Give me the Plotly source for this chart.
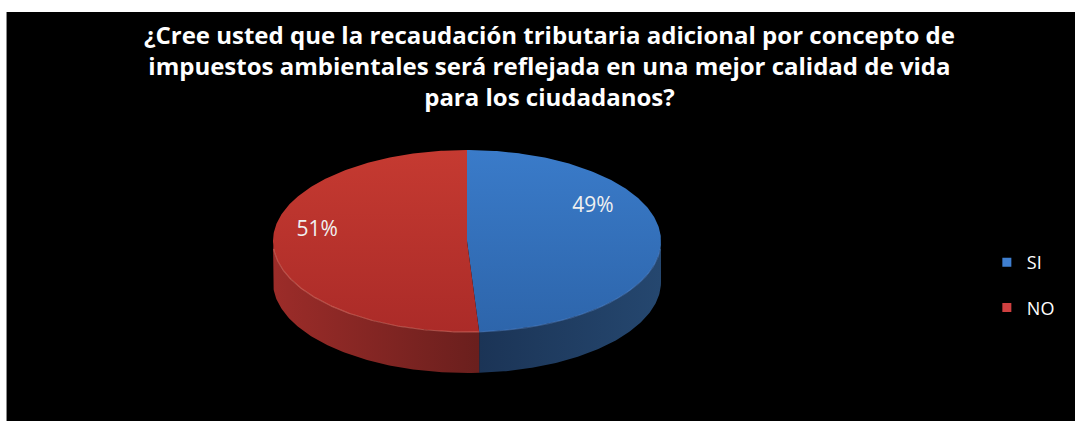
import numpy as np
import plotly.graph_objects as go

# Survey answers
categories = ["SI", "NO"]
values = [49, 51]
top_colors = [("#3a7bc9", "#2d65ab"), ("#c53a31", "#ab2b28")]
side_colors = [("#1b3456", "#25476f"), ("#9c2c29", "#6a1f1d")]
legend_colors = ["#3f7fd0", "#cf4040"]

title_lines = [
    "¿Cree usted que la recaudación tributaria adicional por concepto de",
    "impuestos ambientales será reflejada en una mejor calidad de vida",
    "para los ciudadanos?",
]

FONT = "'Open Sans', Lato, sans-serif"
W, H = 1075, 421
# Geometry of the tilted pie (pixel space, y grows downward)
cx, cy, rx, ry, depth = 467, 241, 194, 91, 41


def ell(theta_deg, dy=0.0):
    t = np.radians(theta_deg)
    return cx + rx * np.sin(t), cy - ry * np.cos(t) + dy


fig = go.Figure()

total = float(sum(values))
bounds = np.concatenate([[0], np.cumsum(values) / total * 360.0])

# Front walls (visible between 90 and 270 degrees, clockwise from the top)
for i, cat in enumerate(categories):
    a, b = max(bounds[i], 90.0), min(bounds[i + 1], 270.0)
    if a >= b:
        continue
    th = np.linspace(a, b, 120)
    xt, yt = ell(th)
    xb, yb = ell(th[::-1], depth)
    xs = np.concatenate([xt, xb, xt[:1]])
    ys = np.concatenate([yt, yb, yt[:1]])
    c0, c1 = side_colors[i]
    fig.add_trace(go.Scatter(
        x=xs, y=ys, mode="lines", line=dict(width=0), fill="toself",
        fillgradient=dict(type="horizontal",
                          colorscale=[[0, c0], [1, c1]]),
        hoverinfo="skip", showlegend=False))

# Top faces
for i, cat in enumerate(categories):
    th = np.linspace(bounds[i], bounds[i + 1], 240)
    xa, ya = ell(th)
    xs = np.concatenate([[cx], xa, [cx]])
    ys = np.concatenate([[cy], ya, [cy]])
    c0, c1 = top_colors[i]
    fig.add_trace(go.Scatter(
        x=xs, y=ys, mode="lines", line=dict(width=0), fill="toself",
        fillgradient=dict(type="vertical", start=cy - ry, stop=cy + ry,
                          colorscale=[[0, c0], [1, c1]]),
        hoverinfo="skip", showlegend=False))

# Light rim along the front edge of the top face
for i, cat in enumerate(categories):
    a, b = max(bounds[i], 95.0), min(bounds[i + 1], 265.0)
    if a >= b:
        continue
    th = np.linspace(a, b, 120)
    xa, ya = ell(th)
    rim = "rgba(225,120,110,0.55)" if cat == "NO" else "rgba(90,140,210,0.45)"
    fig.add_trace(go.Scatter(x=xa, y=ya, mode="lines",
                             line=dict(color=rim, width=1.2),
                             hoverinfo="skip", showlegend=False))

# Percentage labels
label_angle = [bounds[0] + 60.0, bounds[1] + 102.0]
label_frac = [0.75, 0.78]
lx, ly = [], []
for i in range(len(values)):
    x, y = ell(label_angle[i])
    lx.append(cx + (x - cx) * label_frac[i])
    ly.append(cy + (y - cy) * label_frac[i])
fig.add_trace(go.Scatter(
    x=lx, y=ly, mode="text",
    text=[f"{v:.0f}%" for v in values],
    textfont=dict(family=FONT, size=21, color="#f0f0f0"),
    hoverinfo="skip", showlegend=False))

# Legend entries
for i, cat in enumerate(categories):
    fig.add_trace(go.Scatter(
        x=[None], y=[None], mode="markers", name=cat,
        legendgroup=cat,
        marker=dict(symbol="square", size=9, color=legend_colors[i])))

# White page edge above and left of the dark chart area
fig.add_shape(type="rect", x0=0, x1=W, y0=0, y1=12, fillcolor="white",
              line=dict(width=0), layer="above")
fig.add_shape(type="rect", x0=0, x1=7, y0=0, y1=H, fillcolor="white",
              line=dict(width=0), layer="above")
fig.add_shape(type="line", x0=6.5, x1=6.5, y0=12, y1=H,
              line=dict(color="#8a8a8a", width=1), layer="above")

# Chart title
fig.add_annotation(
    text="<b>" + "<br>".join(title_lines) + "</b>",
    xref="paper", yref="paper", x=0.511, y=1 - 16 / H,
    xanchor="center", yanchor="top", showarrow=False, align="center",
    font=dict(family=FONT, size=24, color="white"))

fig.update_layout(
    width=W, height=H,
    margin=dict(l=0, r=0, t=0, b=0),
    paper_bgcolor="black", plot_bgcolor="black",
    xaxis=dict(range=[0, W], visible=False, fixedrange=True),
    yaxis=dict(range=[H, 0], visible=False, fixedrange=True),
    legend=dict(x=0.918, y=1 - 244 / H, xanchor="left", yanchor="top",
                bgcolor="rgba(0,0,0,0)", tracegroupgap=19,
                font=dict(family=FONT, size=18, color="white")),
    showlegend=True,
)

fig.write_html("out.html")
